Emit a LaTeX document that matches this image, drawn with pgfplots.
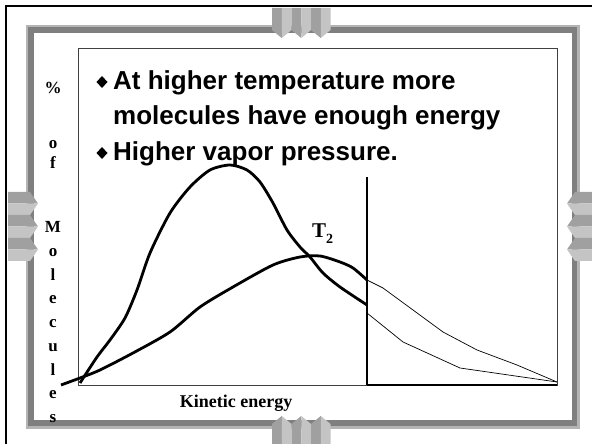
\documentclass[border=0pt]{standalone}
\usepackage{pgfplots}
\pgfplotsset{compat=1.18}
\usepackage{fontspec}
\setmainfont{Liberation Serif}
\newfontfamily\arial{Liberation Sans}
\definecolor{gLight}{HTML}{B4B4B4}
\definecolor{gDark}{HTML}{7F7F7F}
\definecolor{cA}{HTML}{A0A0A0}
\definecolor{cB}{HTML}{C4C4C4}
% chevrons (pixel coords, y measured downward from top -> Y = 444 - y)
\newcommand{\chevdown}[1]{% x0
  \fill[cA] (#1,436) -- (#1+9.75,436) -- (#1+9.75,406) -- (#1,414) -- cycle;
  \fill[cB] (#1+9.75,436) -- (#1+19.5,436) -- (#1+19.5,414) -- (#1+9.75,406) -- cycle;}
\newcommand{\chevup}[1]{%
  \fill[cA] (#1,0) -- (#1+9.75,0) -- (#1+9.75,28) -- (#1,20) -- cycle;
  \fill[cB] (#1+9.75,0) -- (#1+19.5,0) -- (#1+19.5,20) -- (#1+9.75,28) -- cycle;}
\newcommand{\chevright}[1]{% y0 top (Y)
  \fill[cA] (8,#1) -- (30,#1) -- (38,#1-11.5) -- (8,#1-11.5) -- cycle;
  \fill[cB] (8,#1-11.5) -- (38,#1-11.5) -- (30,#1-23) -- (8,#1-23) -- cycle;}
\newcommand{\chevleft}[1]{%
  \fill[cA] (592,#1) -- (575,#1) -- (567,#1-11.5) -- (592,#1-11.5) -- cycle;
  \fill[cB] (592,#1-11.5) -- (567,#1-11.5) -- (575,#1-23) -- (592,#1-23) -- cycle;}
\begin{document}
\begin{tikzpicture}[x=1pt,y=1pt]
\useasboundingbox (0,0) rectangle (592,444);
\fill[white] (0,0) rectangle (592,444);
% outer black frame (top and left)
\draw[line width=2pt] (6,0) -- (6,438) -- (592,438);
% gray slide frame
\fill[gLight] (26,15) rectangle (580,419);
\fill[gDark] (28,18) rectangle (577,417);
\fill[white] (34,24) rectangle (572,411);
% decorative chevrons
\chevdown{272}\chevdown{291.5}\chevdown{311}
\chevup{272}\chevup{291.5}\chevup{311}
\chevright{252}\chevright{229}\chevright{206}
\chevleft{252}\chevleft{229}\chevleft{206}
\begin{axis}[at={(78,59)}, anchor=south west,
  width=479pt, height=337pt, scale only axis,
  xmin=78, xmax=557, ymin=0, ymax=337,
  axis line style={draw=black!75, line width=0.8pt},
  ticks=none, clip=false]
% T1 (lower temperature), thick part
\addplot[black, line width=2.8pt, smooth, tension=0.45] coordinates {
 (80,2) (97,28) (110,45) (125,67) (137,95) (150,132) (170,172) (190,198)
 (210,215) (230,220) (247,215) (260,203) (273,182) (287,155) (300,138)
 (310,128) (323,112) (340,98) (367,80)};
% T1 thin tail
\addplot[black, line width=0.7pt] coordinates {
 (367,72) (403,43) (460,17) (557,3)};
% T2 (higher temperature), thick part
\addplot[black, line width=2.8pt, smooth, tension=0.45] coordinates {
 (61,0) (80,7) (100,15) (133,32) (170,53) (200,78) (233,98) (273,120)
 (300,128) (320,129) (340,123) (353,117) (367,105)};
% T2 thin tail
\addplot[black, line width=0.7pt] coordinates {
 (367,105) (383,97) (443,53) (477,35) (517,20) (557,3)};
% threshold energy line
\addplot[black, line width=2.6pt] coordinates {(367,0) (367,208)};
\addplot[black, line width=1.6pt] coordinates {(367,0) (557,0)};
\end{axis}
% title bullets
\fill (102,368) -- (107.5,362) -- (102,356) -- (96.5,362) -- cycle;
\fill (102,297) -- (107.5,291) -- (102,285) -- (96.5,291) -- cycle;
\begin{scope}[every node/.style={anchor=base west, inner sep=0pt,
   font=\arial\bfseries\fontsize{26}{26}\selectfont}]
\node at (113,354) {At higher temperature more};
\node at (113,319) {molecules have enough energy};
\node at (113,283) {Higher vapor pressure.};
\end{scope}
% T2 label
\node[anchor=base west, inner sep=0pt, font=\bfseries\fontsize{21}{21}\selectfont]
  at (312,206) {T\raisebox{-0.25em}{\fontsize{14}{14}\selectfont 2}};
% x label
\node[anchor=base, inner sep=0pt, font=\bfseries\fontsize{18}{18}\selectfont]
  at (236,36) {Kinetic energy};
% y label, one letter per line
\begin{scope}[every node/.style={anchor=base, inner sep=0pt,
   font=\bfseries\fontsize{17}{17}\selectfont}]
\node at (53,350) {\%};
\node at (53,295) {o};
\node at (53,275) {f};
\node at (53,211) {M};
\node at (53,187) {o};
\node at (53,163) {l};
\node at (53,140) {e};
\node at (53,116) {c};
\node at (53,92) {u};
\node at (53,68) {l};
\node at (53,45) {e};
\node at (53,21) {s};
\end{scope}
\end{tikzpicture}
\end{document}
